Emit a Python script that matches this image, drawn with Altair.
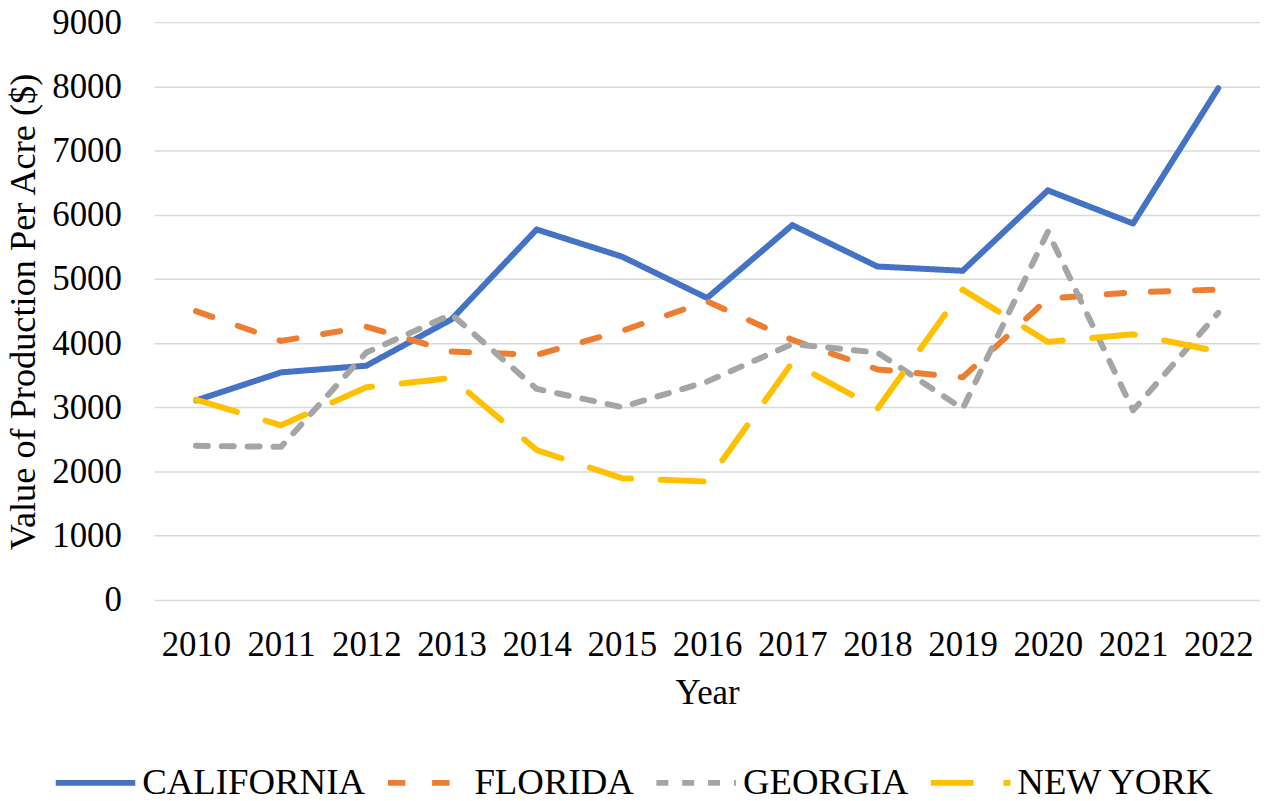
import altair as alt
import pandas as pd

years = [str(y) for y in range(2010, 2023)]
states = ["CALIFORNIA", "FLORIDA", "GEORGIA", "NEW YORK"]
california = [3107, 3544, 3648, 4370, 5770, 5348, 4703, 5838, 5193, 5127, 6379, 5863, 7970]
florida = [4498, 4034, 4255, 3869, 3818, 4190, 4652, 4050, 3590, 3467, 4694, 4791, 4833]
georgia = [2400, 2385, 3853, 4447, 3287, 3003, 3400, 3987, 3853, 2978, 5735, 2952, 4472]
new_york = [3120, 2720, 3312, 3457, 2334, 1896, 1844, 3699, 2978, 4833, 4019, 4138, 3869]

colors = ["#4472C4", "#ED7D31", "#A5A5A5", "#FFC000"]
dashes = [[1, 0], [17.5, 27], [12, 14], [43, 30]]

rows = []
for st, vals in zip(states, [california, florida, georgia, new_york]):
    for yr, v in zip(years, vals):
        rows.append({"Year": yr, "State": st, "Value": v})
df = pd.DataFrame(rows)

FONT = "'Liberation Serif', 'Times New Roman', Times, 'DejaVu Serif', serif"

legend = alt.Legend(
    title=None, orient="none", direction="horizontal",
    legendX=-102, legendY=722,
    symbolType="stroke", symbolSize=6400, symbolStrokeWidth=6,
    labelFont=FONT, labelFontSize=37, labelColor="black",
    columnPadding=10, labelOffset=4, padding=0, labelLimit=0,
)

chart = alt.Chart(df).mark_line(strokeWidth=6, strokeCap="round", strokeJoin="round").encode(
    x=alt.X("Year:O", sort=years,
            scale=alt.Scale(type="point", padding=0.49),
            axis=alt.Axis(title="Year", labelAngle=0, ticks=False, tickSize=0, domain=False,
                          labelPadding=56, labelBaseline="alphabetic",
                          titleBaseline="alphabetic", titleY=104, titlePadding=0)),
    y=alt.Y("Value:Q",
            scale=alt.Scale(domain=[0, 9000], nice=False),
            axis=alt.Axis(title="Value of Production Per Acre ($)", values=list(range(0, 9001, 1000)),
                          format="d", titleFontSize=36.5,
                          ticks=False, tickSize=0, domain=False, labelPadding=33,
                          grid=True, gridColor="#D9D9D9", gridWidth=1.5,
                          titleX=-120, titleY=291, titleBaseline="alphabetic", titleAngle=-90)),
    color=alt.Color("State:N", scale=alt.Scale(domain=states, range=colors), legend=legend),
    strokeDash=alt.StrokeDash("State:N", scale=alt.Scale(domain=states, range=dashes), legend=legend),
    order=alt.Order("State:N"),
).properties(
    width=1112, height=581,
    background="white",
    autosize=alt.AutoSizeParams(type="none"),
    padding={"left": 147, "top": 12, "right": 0, "bottom": 196},
).configure_view(stroke=None).configure_axis(
    labelFont=FONT, titleFont=FONT, labelFontSize=35, titleFontSize=35,
    labelColor="black", titleColor="black", titleFontWeight="normal",
)

chart.save("out.html", embed_options={"renderer": "svg", "actions": False})
